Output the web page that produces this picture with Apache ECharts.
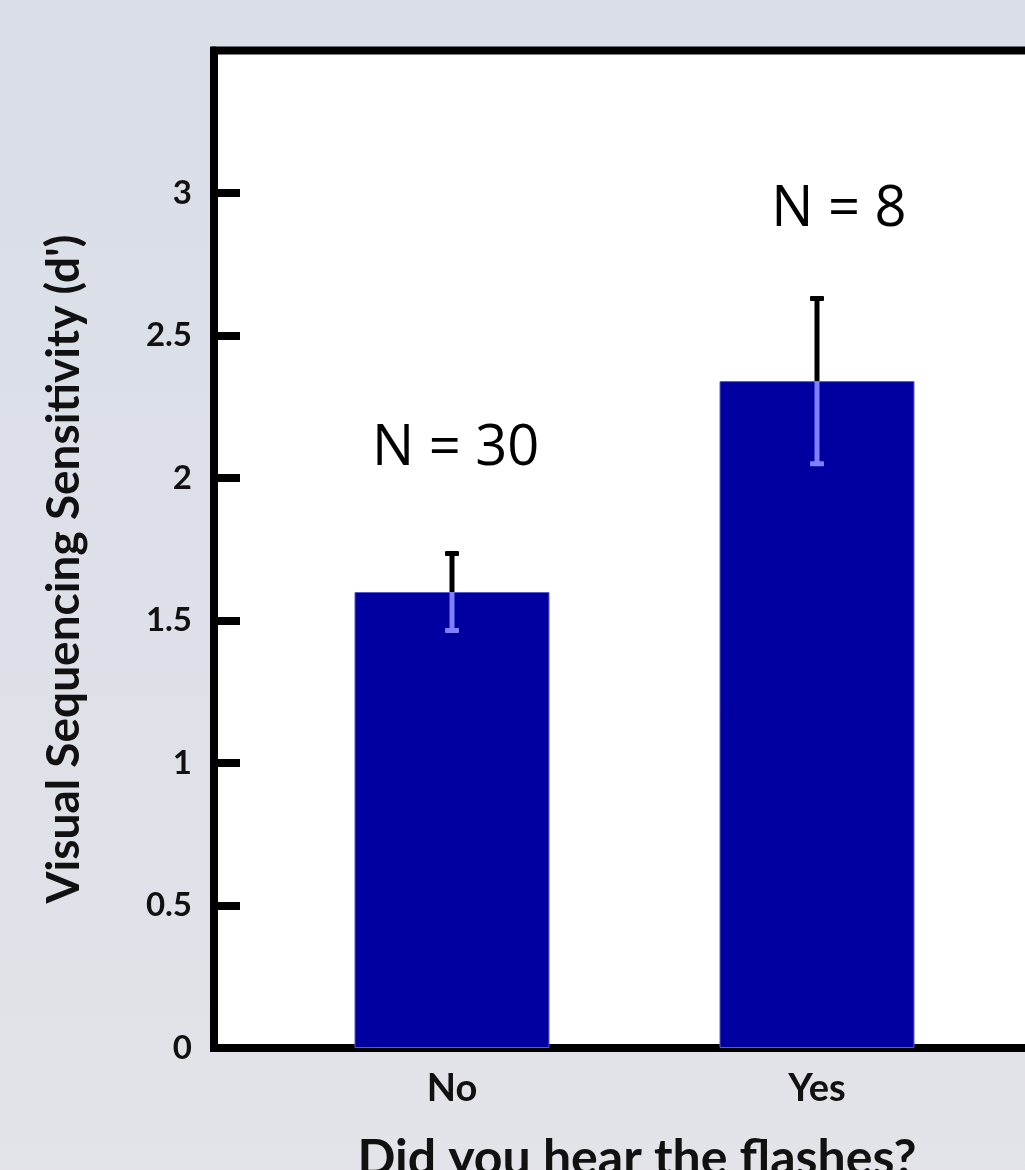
<!DOCTYPE html>
<html>
<head>
<meta charset="utf-8">
<script src="https://cdn.jsdelivr.net/npm/echarts@6/dist/echarts.min.js"></script>
<style>
html,body{margin:0;padding:0;width:1025px;height:1170px;overflow:hidden;
background:linear-gradient(to bottom,#d9dee7 0%,#dde0e8 50%,#e3e3e9 100%);}
#chart{width:1025px;height:1170px;}
</style>
</head>
<body>
<div id="chart"></div>
<script>
var categories = ['No', 'Yes'];
var categoryPos = [1, 2];
var means = [1.60, 2.34];
var stdErrors = [0.137, 0.292];
var nLabels = ['N = 30', 'N = 8'];
var nLabelPos = [[1.01, 2.10], [2.06, 2.94]];
var yTicks = [0, 0.5, 1, 1.5, 2, 2.5, 3];
var yTitle = "Visual Sequencing Sensitivity (d')";
var xTitle = 'Did you hear the flashes?';

var FONT = 'Lato, "Open Sans", sans-serif';

var barData = categoryPos.map(function (x, i) { return [x, means[i]]; });
var errData = categoryPos.map(function (x, i) { return [x, means[i], stdErrors[i]]; });
var textData = nLabelPos.map(function (p, i) { return [p[0], p[1], nLabels[i]]; });

var chart = echarts.init(document.getElementById('chart'), null, {renderer: 'canvas'});
chart.setOption({
  backgroundColor: 'transparent',
  animation: false,
  grid: {
    left: 214, top: 50.5, height: 997.5, width: 1206,
    outerBoundsMode: 'none', containLabel: false,
    show: true, backgroundColor: '#ffffff', borderColor: '#000000', borderWidth: 8
  },
  xAxis: {
    type: 'value', min: 0.348, max: 3.652,
    splitLine: {show: false},
    axisLine: {show: true, onZero: false, lineStyle: {color: '#000', width: 8}},
    axisTick: {show: false},
    axisLabel: {
      customValues: categoryPos,
      formatter: function (v) { return categories[Math.round(v) - 1] || ''; },
      fontFamily: FONT, fontWeight: 'bold', fontSize: 38, color: '#111', margin: 22
    }
  },
  yAxis: {
    type: 'value', min: 0, max: 3.5, interval: 0.5,
    splitLine: {show: false},
    axisLine: {show: true, lineStyle: {color: '#000', width: 8}},
    axisTick: {show: true, inside: true, length: 26, lineStyle: {color: '#000', width: 8}, customValues: yTicks},
    axisLabel: {
      customValues: yTicks,
      fontFamily: FONT, fontWeight: 'bold', fontSize: 33, color: '#111', margin: 22
    }
  },
  series: [
    {
      type: 'bar', data: barData, barWidth: 195,
      itemStyle: {color: '#0000a0', borderColor: '#5a5ad0', borderWidth: 1},
      z: 1
    },
    {
      type: 'custom', data: errData, z: 3,
      renderItem: function (params, api) {
        var x = api.value(0), m = api.value(1), se = api.value(2);
        var pm = api.coord([x, m]);
        var pt = api.coord([x, m + se]);
        var pb = api.coord([x, m - se]);
        var cx = pm[0];
        return {
          type: 'group',
          children: [
            {type: 'line', shape: {x1: cx, y1: pm[1], x2: cx, y2: pt[1] + 2}, style: {stroke: '#000', lineWidth: 5}},
            {type: 'rect', shape: {x: cx - 7, y: pt[1] - 2, width: 14, height: 5, r: 1}, style: {fill: '#000'}},
            {type: 'line', shape: {x1: cx, y1: pm[1], x2: cx, y2: pb[1] - 2}, style: {stroke: '#8080ff', lineWidth: 5}},
            {type: 'rect', shape: {x: cx - 7, y: pb[1] - 3, width: 14, height: 5, r: 1}, style: {fill: '#8080ff'}}
          ]
        };
      }
    },
    {
      type: 'custom', data: textData, z: 4,
      renderItem: function (params, api) {
        var p = api.coord([api.value(0), api.value(1)]);
        return {
          type: 'text', x: p[0], y: p[1],
          style: {text: textData[params.dataIndex][2], fontFamily: '"Open Sans", Lato, sans-serif', fontSize: 56,
                  fill: '#000', align: 'center', verticalAlign: 'middle'}
        };
      }
    }
  ],
  graphic: [
    {type: 'text', x: 64, y: 569, rotation: Math.PI / 2, z: 10,
     style: {text: yTitle, fontFamily: FONT, fontWeight: 'bold', fontSize: 46, fill: '#111', align: 'center', verticalAlign: 'middle'}},
    {type: 'text', x: 637, y: 1159, z: 10,
     style: {text: xTitle, fontFamily: FONT, fontWeight: 'bold', fontSize: 50, fill: '#111', align: 'center', verticalAlign: 'middle'}}
  ]
});
</script>
</body>
</html>
